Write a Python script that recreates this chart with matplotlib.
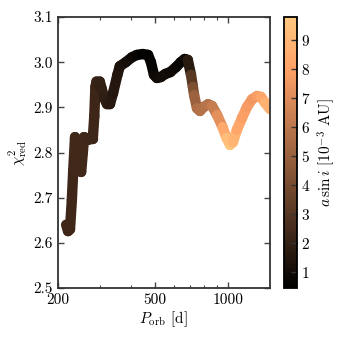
import numpy as np
import matplotlib
matplotlib.use("Agg")
import matplotlib.pyplot as plt
from matplotlib.collections import LineCollection
from matplotlib.colors import Normalize
from matplotlib.ticker import FixedLocator, FixedFormatter, NullFormatter

plt.rcParams["font.family"] = "serif"
plt.rcParams["font.serif"] = ["cmr10"]
plt.rcParams["mathtext.fontset"] = "cm"
plt.rcParams["axes.formatter.use_mathtext"] = True
plt.rcParams["font.size"] = 11

# orbital period [d], reduced chi^2, a sin i [1e-3 AU]
period = [217, 221, 225, 229, 232, 236, 240, 245, 250, 254, 257, 262, 267, 273,
          279, 283, 286, 289, 293, 298, 304, 311, 319, 328, 338, 352, 360, 381,
          404, 423, 447, 470, 483, 497, 511, 530, 554, 580, 612, 640, 664, 684,
          705, 718, 726, 746, 767, 796, 828, 860, 902, 950, 987, 1019, 1048,
          1087, 1140, 1196, 1255, 1314, 1365, 1419, 1486]
chi2 = [2.640, 2.626, 2.630, 2.695, 2.760, 2.834, 2.800, 2.765, 2.757, 2.800,
        2.834, 2.832, 2.828, 2.830, 2.830, 2.880, 2.945, 2.957, 2.949, 2.957,
        2.940, 2.920, 2.907, 2.907, 2.932, 2.972, 2.991, 3.000, 3.011, 3.016,
        3.018, 3.016, 3.000, 2.972, 2.965, 2.967, 2.974, 2.978, 2.989, 3.000,
        3.007, 3.005, 2.972, 2.945, 2.927, 2.898, 2.892, 2.901, 2.907, 2.903,
        2.883, 2.856, 2.832, 2.817, 2.823, 2.850, 2.876, 2.901, 2.918, 2.925,
        2.923, 2.910, 2.896]
asini = [2.3, 2.3, 2.3, 2.3, 2.3, 2.4, 2.4, 2.4, 2.4, 2.4, 2.4, 2.4, 2.3, 2.3,
         2.3, 2.3, 2.2, 2.2, 2.1, 2.0, 2.0, 1.9, 1.8, 1.7, 1.6, 1.5, 1.4, 1.2,
         1.0, 0.8, 0.6, 0.45, 0.6, 0.8, 0.9, 1.0, 1.0, 1.0, 0.9, 0.8, 0.7, 0.9,
         2.5, 3.8, 4.6, 5.5, 5.8, 5.8, 5.8, 6.0, 6.6, 7.8, 9.0, 9.8, 9.3, 8.5,
         8.0, 7.8, 7.6, 7.6, 8.0, 8.6, 9.0]

yticks = [2.5, 2.6, 2.7, 2.8, 2.9, 3.0, 3.1]
xticks = [200, 500, 1000]
cticks = [1, 2, 3, 4, 5, 6, 7, 8, 9]

fig = plt.figure(figsize=(3.4, 3.4), dpi=100)
ax = fig.add_axes([57.5 / 340, 52 / 340, 212.5 / 340, 271 / 340])
cax = fig.add_axes([283.5 / 340, 52 / 340, 13 / 340, 271 / 340])

pts = np.column_stack([period, chi2])
segs = np.stack([pts[:-1], pts[1:]], axis=1)
a = np.array(asini)
norm = Normalize(a.min(), a.max())
lc = LineCollection(segs, cmap="copper", norm=norm, linewidths=7.5,
                    capstyle="round", joinstyle="round")
lc.set_array(0.5 * (a[:-1] + a[1:]))
ax.add_collection(lc)

ax.set_xscale("log")
ax.set_xlim(200, 1486)
ax.set_ylim(2.5, 3.1)
ax.xaxis.set_major_locator(FixedLocator(xticks))
ax.xaxis.set_major_formatter(FixedFormatter([str(t) for t in xticks]))
ax.xaxis.set_minor_formatter(NullFormatter())
ax.set_yticks(yticks)
ax.set_yticklabels([f"{t:.1f}" for t in yticks])

ax.tick_params(which="both", direction="in", top=True, right=True,
               color="#444444")
ax.tick_params(which="major", length=4, width=1)
ax.tick_params(which="minor", length=2, width=0.8)
for s in ax.spines.values():
    s.set_linewidth(1.3)
    s.set_color("#333333")

ax.set_xlabel(r"$P_{\mathrm{orb}}$ [d]", labelpad=2)
ax.set_ylabel(r"$\chi^2_{\mathrm{red}}$", labelpad=3)

cb = fig.colorbar(lc, cax=cax)
cb.set_ticks(cticks)
cb.ax.tick_params(direction="in", length=4, width=1, color="#333333")
cb.outline.set_linewidth(1.3)
cb.set_label(r"$a\,\sin i$ [$10^{-3}$ AU]", labelpad=3)

fig.savefig("out.png", dpi=100)
